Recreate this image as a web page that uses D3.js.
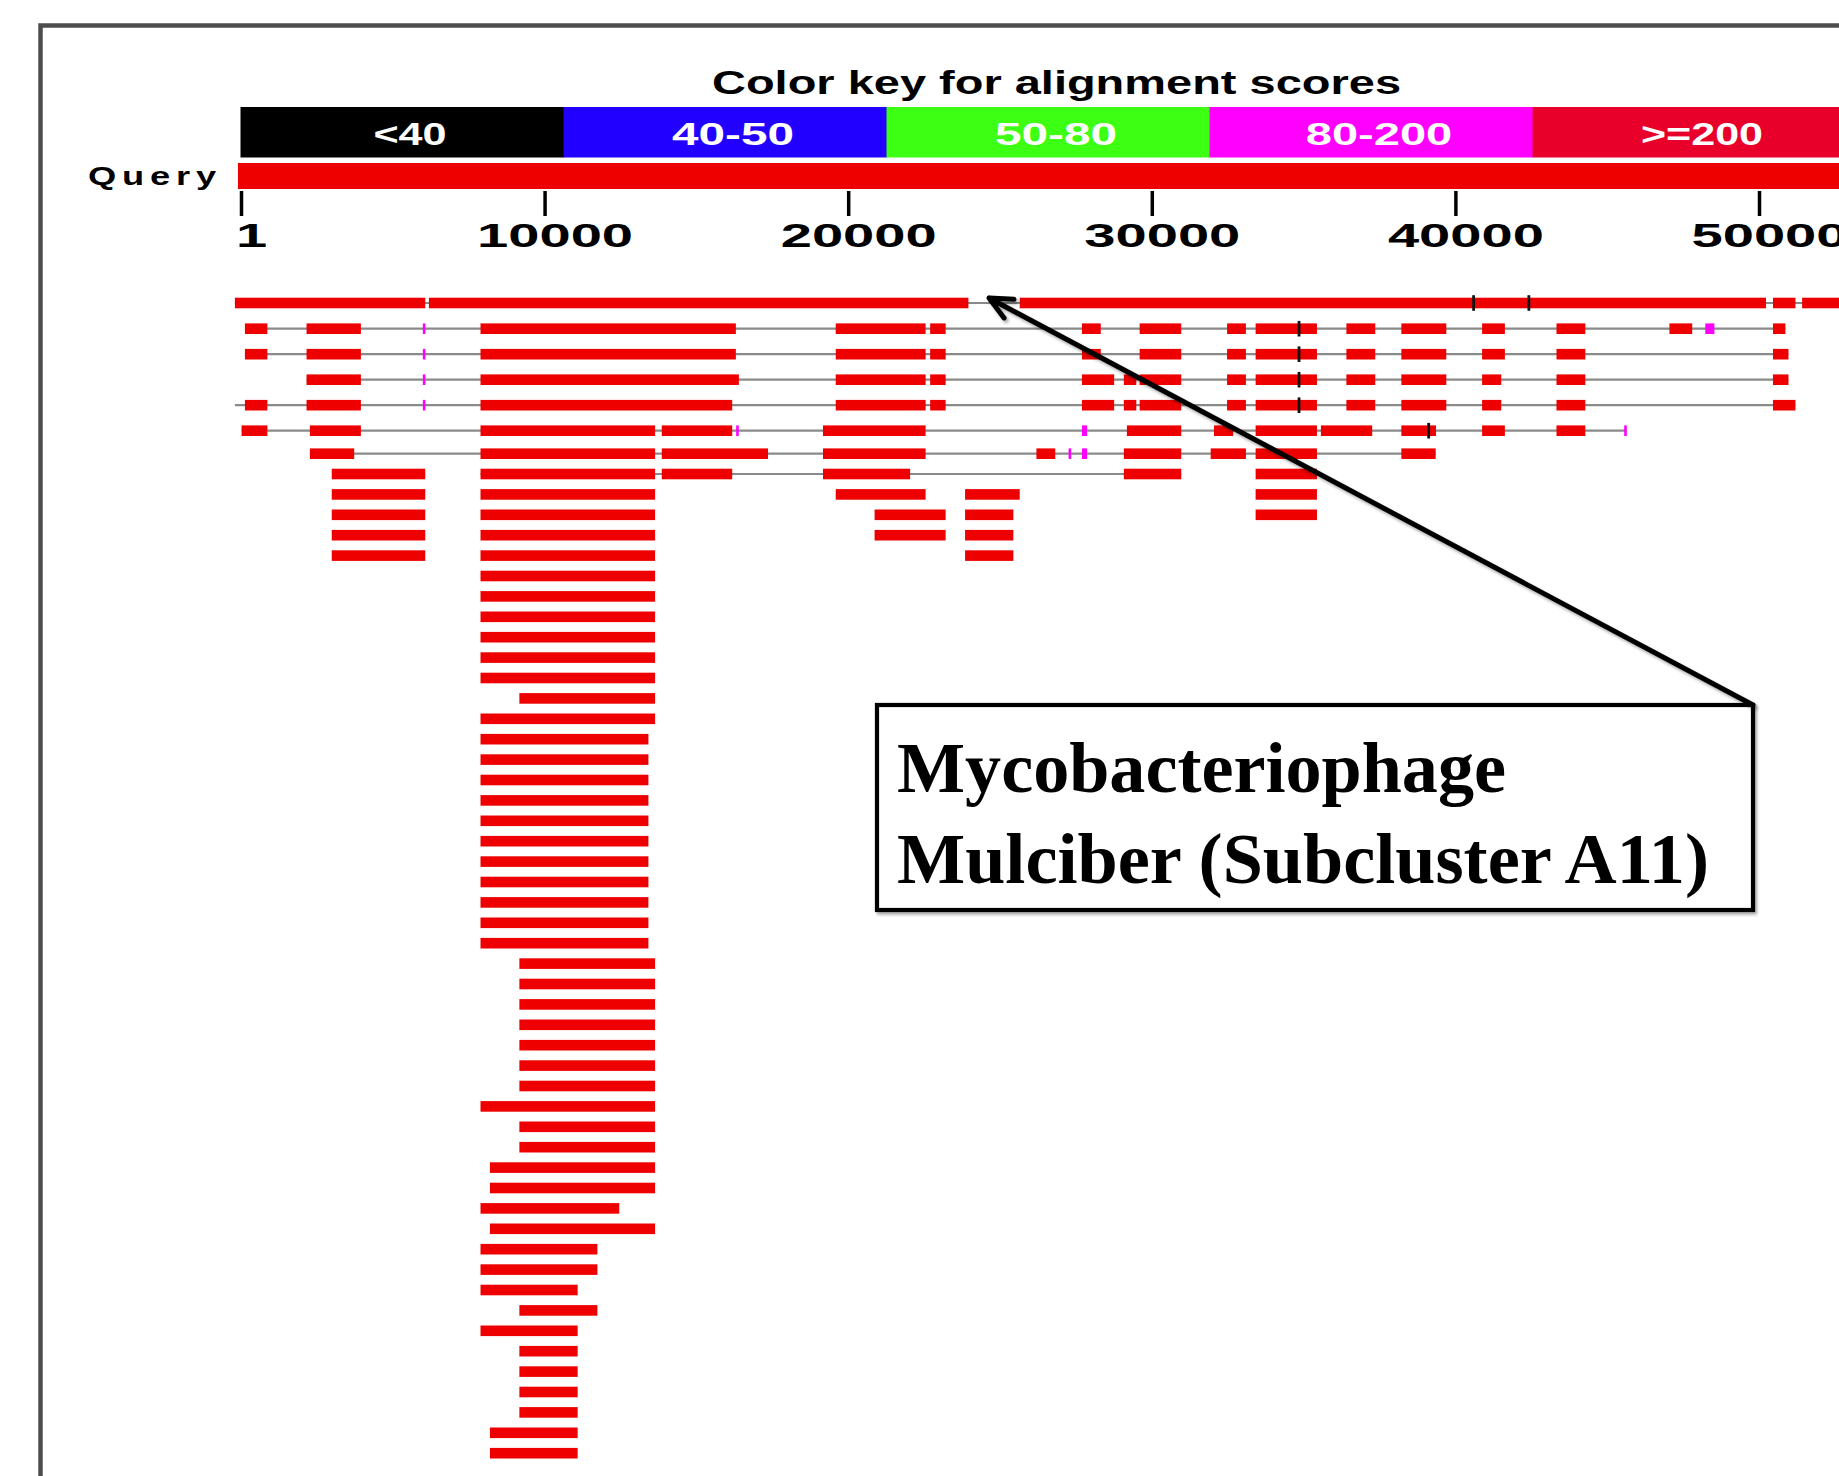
<!DOCTYPE html>
<html><head><meta charset="utf-8">
<script src="https://cdn.jsdelivr.net/npm/d3@7"></script>
<style>html,body{margin:0;padding:0;background:#fff;overflow:hidden}</style>
</head><body>
<svg id="chart" width="1839" height="1476"></svg>
<script>
// ---------------- DATA ----------------
const queryRange = [-100, 53500];
const axisTicks = [1, 10000, 20000, 30000, 40000, 50000];
const keyLabels = ["<40", "40-50", "50-80", "80-200", ">=200"];
const keyColors = ["#000000", "#2200ff", "#3cff14", "#ff00ff", "#e8002a"];
const keyTitle = "Color key for alignment scores";
const queryLabel = "Query";

// hits: row index, aligned segments [start, end] (bp), optional connector span
const hits = [
  {row: 0, span: [-200, 53500], segs: [[-200,6070],[6190,23960],[25650,50230],[50460,51200],[51420,53500]]},
  {row: 1, segs: [[130,870],[2160,3950],[7890,16300],[19590,22550],[22700,23210],[27700,28320],[29600,30970],[32480,33100],[33420,35440],[36410,37360],[38220,39700],[40880,41630],[43330,44280],[47050,47800],[50460,50870]]},
  {row: 2, segs: [[130,870],[2160,3950],[7890,16300],[19590,22550],[22700,23210],[27700,28320],[29600,30970],[32480,33100],[33420,35440],[36410,37360],[38220,39700],[40880,41630],[43330,44280],[50460,50970]]},
  {row: 3, segs: [[2160,3950],[7890,16400],[19590,22550],[22700,23210],[27700,28760],[29080,29490],[29600,30970],[32480,33100],[33420,35440],[36410,37360],[38220,39700],[40880,41510],[43330,44280],[50460,50970]]},
  {row: 4, span: [-200, 51200], segs: [[130,870],[2160,3950],[7890,16180],[19590,22550],[22700,23210],[27700,28760],[29080,29490],[29600,30970],[32480,33100],[33420,35440],[36410,37360],[38220,39700],[40880,41510],[43330,44280],[50460,51200]]},
  {row: 5, span: [20, 45640], segs: [[20,870],[2270,3950],[7890,13640],[13860,16180],[19170,22550],[29180,30970],[32050,32680],[33420,35440],[35570,37260],[38220,39360],[40880,41630],[43330,44280]]},
  {row: 6, segs: [[2270,3730],[7890,13640],[13860,17360],[19170,22550],[26200,26820],[29080,30970],[31940,33100],[33420,35440],[38220,39350]]},
  {row: 7, segs: [[2990,6070]]},
  {row: 7, segs: [[7890,13640],[13860,16180],[19170,22040],[29080,30970]]},
  {row: 7, segs: [[33420,35440]]},
  {row: 8, segs: [[2990,6070]]}, {row: 8, segs: [[7890,13640]]}, {row: 8, segs: [[19590,22550]]}, {row: 8, segs: [[23850,25650]]}, {row: 8, segs: [[33420,35440]]},
  {row: 9, segs: [[2990,6070]]}, {row: 9, segs: [[7890,13640]]}, {row: 9, segs: [[20870,23210]]}, {row: 9, segs: [[23850,25440]]}, {row: 9, segs: [[33420,35440]]},
  {row: 10, segs: [[2990,6070]]}, {row: 10, segs: [[7890,13640]]}, {row: 10, segs: [[20870,23210]]}, {row: 10, segs: [[23850,25440]]},
  {row: 11, segs: [[2990,6070]]}, {row: 11, segs: [[7890,13640]]}, {row: 11, segs: [[23850,25440]]},
  {row: 12, segs: [[7890,13640]]}, {row: 13, segs: [[7890,13640]]}, {row: 14, segs: [[7890,13640]]},
  {row: 15, segs: [[7890,13640]]}, {row: 16, segs: [[7890,13640]]}, {row: 17, segs: [[7890,13640]]},
  {row: 18, segs: [[9170,13640]]}, {row: 19, segs: [[7890,13640]]},
  {row: 20, segs: [[7890,13420]]}, {row: 21, segs: [[7890,13420]]}, {row: 22, segs: [[7890,13420]]},
  {row: 23, segs: [[7890,13420]]}, {row: 24, segs: [[7890,13420]]}, {row: 25, segs: [[7890,13420]]},
  {row: 26, segs: [[7890,13420]]}, {row: 27, segs: [[7890,13420]]}, {row: 28, segs: [[7890,13420]]},
  {row: 29, segs: [[7890,13420]]}, {row: 30, segs: [[7890,13420]]},
  {row: 31, segs: [[9170,13640]]}, {row: 32, segs: [[9170,13640]]}, {row: 33, segs: [[9170,13640]]},
  {row: 34, segs: [[9170,13640]]}, {row: 35, segs: [[9170,13640]]}, {row: 36, segs: [[9170,13640]]},
  {row: 37, segs: [[9170,13640]]}, {row: 38, segs: [[7890,13640]]}, {row: 39, segs: [[9170,13640]]},
  {row: 40, segs: [[9170,13640]]}, {row: 41, segs: [[8200,13640]]}, {row: 42, segs: [[8200,13640]]},
  {row: 43, segs: [[7890,12460]]}, {row: 44, segs: [[8200,13640]]}, {row: 45, segs: [[7890,11740]]},
  {row: 46, segs: [[7890,11740]]}, {row: 47, segs: [[7890,11090]]}, {row: 48, segs: [[9170,11740]]},
  {row: 49, segs: [[7890,11090]]}, {row: 50, segs: [[9170,11090]]}, {row: 51, segs: [[9170,11090]]},
  {row: 52, segs: [[9170,11090]]}, {row: 53, segs: [[9170,11090]]}, {row: 54, segs: [[8200,11090]]},
  {row: 55, segs: [[8200,11090]]}
];

// lower-score (80-200) pieces, magenta
const magentaMarks = [
  {row: 1, s: 5990, e: 6070}, {row: 1, s: 48230, e: 48530},
  {row: 2, s: 5990, e: 6070}, {row: 3, s: 5990, e: 6070}, {row: 4, s: 5990, e: 6070},
  {row: 5, s: 16310, e: 16390}, {row: 5, s: 27700, e: 27870}, {row: 5, s: 45560, e: 45640},
  {row: 6, s: 27260, e: 27340}, {row: 6, s: 27700, e: 27870}
];
// black vertical markers
const blackMarks = [
  {row: 0, pos: 40600}, {row: 0, pos: 42420},
  {row: 1, pos: 34850}, {row: 2, pos: 34850}, {row: 3, pos: 34850}, {row: 4, pos: 34850},
  {row: 5, pos: 39120}
];

const annotationLines = ["Mycobacteriophage", "Mulciber (Subcluster A11)"];
const annotationTarget = 24640;

// ---------------- CHART ----------------
const svg = d3.select("#chart");
const W = 1839, H = 1476;
const sans = "'Liberation Sans', Arial, Helvetica, sans-serif";
const serif = "'Liberation Serif', 'Times New Roman', serif";
const barRed = "#ee0000";

const defs = svg.append("defs");
const f = defs.append("filter").attr("id", "shadow")
  .attr("filterUnits", "userSpaceOnUse").attr("x", 0).attr("y", 0).attr("width", W).attr("height", H);
f.append("feDropShadow").attr("dx", 2).attr("dy", 2.5).attr("stdDeviation", 1.6)
  .attr("flood-color", "#000").attr("flood-opacity", 0.35);

svg.append("rect").attr("width", W).attr("height", H).attr("fill", "#fff");

// frame
svg.append("rect").attr("x", 40.5).attr("y", 25.5).attr("width", 1900).attr("height", 1600)
  .attr("fill", "none").attr("stroke", "#4d4d4d").attr("stroke-width", 4.5);

const x = d3.scaleLinear().domain([1, 50000]).range([241, 1759]);
const y = d3.scaleLinear().domain([0, 1, 5, 6, 7, 55]).range([303, 328.7, 430.7, 453.7, 474, 1453.2]);
const barH = 10.6;

// color key
svg.append("text").attr("x", 1056.5).attr("y", 94).attr("text-anchor", "middle")
  .attr("font-family", sans).attr("font-weight", "bold").attr("font-size", 33)
  .attr("textLength", 689).attr("lengthAdjust", "spacingAndGlyphs")
  .attr("fill", "#000").text(keyTitle);

const kb = d3.scaleBand().domain(keyLabels).range([240.5, 240.5 + 5 * 323]).paddingInner(0);
const keyG = svg.append("g");
keyG.selectAll("rect").data(keyLabels).join("rect")
  .attr("x", d => kb(d)).attr("y", 107).attr("width", kb.bandwidth() + 0.5).attr("height", 50.5)
  .attr("fill", (d, i) => keyColors[i]);
keyG.selectAll("text").data(keyLabels).join("text")
  .attr("x", d => kb(d) + kb.bandwidth() / 2 + 8).attr("y", 145)
  .attr("text-anchor", "middle").attr("font-family", sans).attr("font-weight", "bold")
  .attr("font-size", 32).attr("fill", "#fff")
  .attr("textLength", d => d.length * 24.4).attr("lengthAdjust", "spacingAndGlyphs")
  .text(d => d);

// query
svg.append("text").attr("x", 88).attr("y", 185).attr("font-family", sans).attr("font-weight", "bold")
  .attr("font-size", 25).attr("letter-spacing", 4).attr("textLength", 134).attr("lengthAdjust", "spacingAndGlyphs").attr("fill", "#000")
  .text(queryLabel);
svg.append("rect").attr("x", x(queryRange[0])).attr("y", 163)
  .attr("width", x(queryRange[1]) - x(queryRange[0])).attr("height", 26).attr("fill", barRed);

// axis
const axisG = svg.append("g").attr("transform", "translate(0,191)")
  .call(d3.axisBottom(x).tickValues(axisTicks).tickSize(25).tickFormat(d3.format("d")));
axisG.select(".domain").remove();
axisG.selectAll(".tick line").attr("stroke", "#000").attr("stroke-width", 3.5);
axisG.selectAll(".tick text").attr("y", 56).attr("dy", 0).attr("x", 10)
  .attr("fill", "#000").attr("font-family", sans).attr("font-weight", "bold").attr("font-size", 34)
  .attr("textLength", d => String(d).length * 31.2).attr("lengthAdjust", "spacingAndGlyphs");

// connectors
const conn = hits.filter(h => h.segs.length > 1 || h.span);
svg.append("g").selectAll("line").data(conn).join("line")
  .attr("x1", h => x(h.span ? h.span[0] : d3.min(h.segs, s => s[0])))
  .attr("x2", h => x(h.span ? h.span[1] : d3.max(h.segs, s => s[1])))
  .attr("y1", h => y(h.row)).attr("y2", h => y(h.row))
  .attr("stroke", "#8a8a8a").attr("stroke-width", 2.2);

// bars
const segData = hits.flatMap(h => h.segs.map(s => ({row: h.row, s: s[0], e: s[1]})));
svg.append("g").selectAll("rect").data(segData).join("rect")
  .attr("x", d => x(d.s)).attr("width", d => x(d.e) - x(d.s))
  .attr("y", d => y(d.row) - barH / 2).attr("height", barH).attr("fill", barRed);

svg.append("g").selectAll("rect").data(magentaMarks).join("rect")
  .attr("x", d => x(d.s)).attr("width", d => Math.max(2.6, x(d.e) - x(d.s)))
  .attr("y", d => y(d.row) - barH / 2).attr("height", barH).attr("fill", "#ff00ff");

svg.append("g").selectAll("line").data(blackMarks).join("line")
  .attr("x1", d => x(d.pos)).attr("x2", d => x(d.pos))
  .attr("y1", d => y(d.row) - 7.8).attr("y2", d => y(d.row) + 7.8)
  .attr("stroke", "#111").attr("stroke-width", 2.8);

// annotation box
const box = {x: 877, y: 705, w: 876, h: 205};
svg.append("rect").attr("x", box.x).attr("y", box.y).attr("width", box.w).attr("height", box.h)
  .attr("fill", "#fff").attr("stroke", "#000").attr("stroke-width", 4.2).attr("filter", "url(#shadow)");
const lineW = [609, 812];
svg.append("g").selectAll("text").data(annotationLines).join("text")
  .attr("x", 897).attr("y", (d, i) => 791.5 + i * 91.8)
  .attr("font-family", serif).attr("font-weight", "bold").attr("font-size", 72).attr("fill", "#000")
  .attr("textLength", (d, i) => lineW[i]).attr("lengthAdjust", "spacingAndGlyphs")
  .text(d => d);

// arrow
const tip = [x(annotationTarget), y(0) - 5];
const start = [box.x + box.w, box.y];
const ang = Math.atan2(start[1] - tip[1], start[0] - tip[0]);
const wl = 25, wa = 25 * Math.PI / 180;
const p = d3.path();
p.moveTo(start[0], start[1]); p.lineTo(tip[0], tip[1]);
p.moveTo(tip[0] + wl * Math.cos(ang - wa), tip[1] + wl * Math.sin(ang - wa));
p.lineTo(tip[0], tip[1]);
p.lineTo(tip[0] + wl * Math.cos(ang + wa), tip[1] + wl * Math.sin(ang + wa));
svg.append("path").attr("d", p.toString()).attr("fill", "none").attr("stroke", "#000")
  .attr("stroke-width", 5).attr("stroke-linecap", "round").attr("stroke-linejoin", "round")
  .attr("filter", "url(#shadow)");
</script>
</body></html>
